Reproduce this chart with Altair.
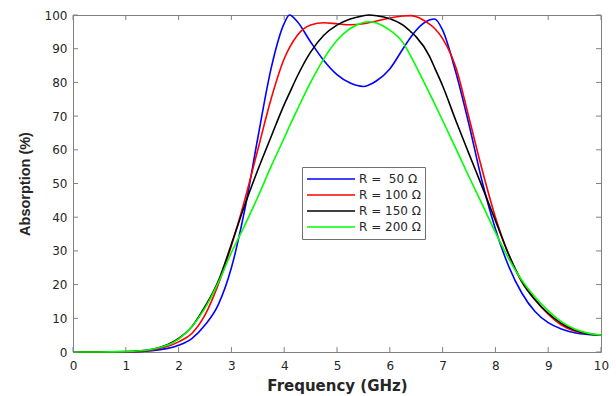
import altair as alt
import pandas as pd

freq = [0, 0.5, 1, 1.5, 2, 2.25, 2.5, 2.75, 3, 3.25, 3.5, 3.75, 4, 4.1, 4.25, 4.5, 4.75,
        5, 5.25, 5.5, 5.6, 5.75, 6, 6.25, 6.4, 6.5, 6.75, 6.85, 7, 7.25, 7.5, 7.75, 8,
        8.25, 8.5, 8.75, 9, 9.25, 9.5, 9.75, 10]

r50 = [0, 0, 0, 0.4, 2, 4, 8, 14, 25, 42, 63.5, 84, 97.5, 100, 98, 92, 86.5,
       82.3, 79.8, 78.8, 79.2, 80.5, 84, 90, 93.5, 95.5, 98.5, 98.8, 95.5, 83, 67.5, 50.5, 36.5,
       25.5, 17.5, 12, 8.7, 6.8, 5.7, 5.2, 5]
r100 = [0, 0, 0, 0.6, 3, 5.5, 11, 20, 31.5, 45, 60, 75, 87, 90.3, 94, 97, 97.7,
        97.4, 97.1, 97.4, 97.7, 98.2, 99.1, 99.7, 99.8, 99.5, 97.3, 96, 93, 84.5, 69.5, 54, 40,
        29, 20.8, 15.5, 11.2, 8, 6.2, 5.4, 5]
r150 = [0, 0, 0.1, 0.8, 4, 7.5, 13.5, 21, 32, 43.5, 54, 63.8, 73.4, 76.8, 81.9, 89, 94,
        97, 98.8, 99.8, 100, 99.8, 98.9, 97, 95, 93.5, 87.8, 84.3, 79, 68.7, 58.8, 49, 39,
        29, 21, 15.5, 11.5, 8.5, 6.5, 5.4, 5]
r200 = [0, 0, 0.1, 0.8, 3.8, 7.5, 13, 20.5, 29.5, 37.5, 46, 55, 63.5, 67, 72, 80, 87,
        92.5, 96, 97.8, 98, 97.6, 95.5, 91.8, 87.7, 84.7, 76.8, 73.6, 68.7, 60.4, 52, 43.8, 35.5,
        27.8, 21.3, 16.3, 12.3, 9, 6.8, 5.6, 5]

labels = ["R = \u00a050 \u03a9", "R = 100 \u03a9", "R = 150 \u03a9", "R = 200 \u03a9"]
colors = ["#0000ff", "#ff0000", "#000000", "#00ff00"]
series = [r50, r100, r150, r200]

x_ticks = list(range(0, 11))
y_ticks = list(range(0, 101, 10))

rows = []
for lab, vals in zip(labels, series):
    for i, (f, a) in enumerate(zip(freq, vals)):
        rows.append({"f": f, "A": a, "R": lab, "o": i})
df = pd.DataFrame(rows)

W, H = 528, 337
GRAY = "#808080"
TXT = "#262626"

xscale = alt.Scale(domain=[0, 10], nice=False, zero=False)
yscale = alt.Scale(domain=[0, 100], nice=False, zero=False)

x_axis = alt.Axis(title="Frequency (GHz)", values=x_ticks, format="d",
                  domain=False, ticks=False, tickSize=0, grid=False,
                  labelFlush=False, labelOverlap=False,
                  labelPadding=8, titlePadding=7,
                  labelFont="DejaVu Sans", labelFontSize=12, labelColor=TXT,
                  titleFont="DejaVu Sans", titleFontSize=15, titleFontWeight="bold",
                  titleColor=TXT)
y_axis = alt.Axis(title="Absorption (%)", values=y_ticks, format="d",
                  domain=False, ticks=False, tickSize=0, grid=False,
                  labelFlush=False, labelOverlap=False,
                  labelPadding=6, titlePadding=12,
                  labelFont="DejaVu Sans", labelFontSize=12, labelColor=TXT,
                  titleFont="Liberation Sans", titleFontSize=14.5,
                  titleFontWeight="bold", titleColor=TXT)

lines = alt.Chart(df).mark_line(strokeWidth=1.6, interpolate="monotone").encode(
    x=alt.X("f:Q", scale=xscale, axis=x_axis),
    y=alt.Y("A:Q", scale=yscale, axis=y_axis),
    color=alt.Color("R:N", scale=alt.Scale(domain=labels, range=colors),
                    legend=alt.Legend(title=None, orient="none", legendX=229, legendY=152,
                                      symbolType="stroke", symbolSize=2304,
                                      symbolStrokeWidth=1.6, clipHeight=16, rowPadding=0,
                                      labelOffset=3, padding=4,
                                      labelFont="DejaVu Sans", labelFontSize=12,
                                      labelColor=TXT, strokeColor="#707070",
                                      fillColor="#ffffff")),
    order="o:Q",
)

xt = pd.DataFrame({"f": x_ticks})
yt = pd.DataFrame({"A": y_ticks})

tick_style = dict(color=GRAY, strokeWidth=1)
xb = alt.Chart(xt).mark_rule(**tick_style).encode(
    x=alt.X("f:Q", scale=xscale, axis=x_axis), y=alt.value(H), y2=alt.value(H - 5))
xtop = alt.Chart(xt).mark_rule(**tick_style).encode(
    x=alt.X("f:Q", scale=xscale, axis=x_axis), y=alt.value(0), y2=alt.value(5))
yl = alt.Chart(yt).mark_rule(**tick_style).encode(
    y=alt.Y("A:Q", scale=yscale, axis=y_axis), x=alt.value(0), x2=alt.value(5))
yr = alt.Chart(yt).mark_rule(**tick_style).encode(
    y=alt.Y("A:Q", scale=yscale, axis=y_axis), x=alt.value(W), x2=alt.value(W - 5))

chart = alt.layer(lines, xb, xtop, yl, yr).properties(
    width=W, height=H,
    autosize=alt.AutoSizeParams(type="none"),
    padding={"left": 73, "top": 15, "right": 15, "bottom": 44},
    background="#ffffff",
).configure_view(stroke=GRAY, strokeWidth=1)

chart.save("out.html", embed_options={"renderer": "svg", "actions": False})
